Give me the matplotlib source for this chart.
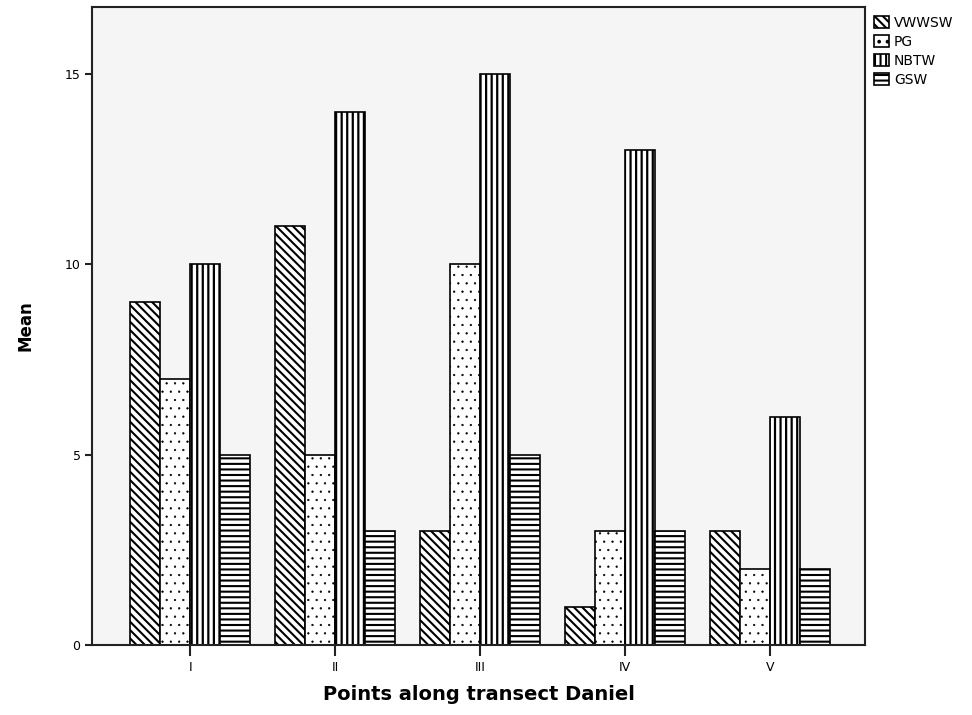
"""Grouped bar chart of mean counts along transect Daniel."""

import matplotlib
matplotlib.use("Agg")
import matplotlib.pyplot as plt
import numpy as np

points = ["I", "II", "III", "IV", "V"]
series = ["VWWSW", "PG", "NBTW", "GSW"]
vwwsw = [9, 11, 3, 1, 3]
pg = [7, 5, 10, 3, 2]
nbtw = [10, 14, 15, 13, 6]
gsw = [5, 3, 5, 3, 2]

hatches = ["\\\\\\\\", "..", "|||", "---"]
hatch_lw = [1.5, 0.4, 1.6, 1.5]

plt.rcParams["font.family"] = ["DejaVu Sans"]
plt.rcParams["hatch.linewidth"] = 1.5
plt.rcParams["hatch.color"] = "black"

fig = plt.figure(figsize=(9.72, 7.15), dpi=100)
ax = fig.add_axes([0.095, 0.098, 0.795, 0.892])
ax.set_facecolor("#f5f5f5")

x = np.arange(len(points))
width = 0.207
for i, (name, vals) in enumerate(zip(series, [vwwsw, pg, nbtw, gsw])):
    bars = ax.bar(x + (i - 1.5) * width, vals, width, color="white",
                  edgecolor="black", linewidth=1.2, hatch=hatches[i],
                  label=name)
    for b in bars:
        if hasattr(b, "set_hatch_linewidth"):
            b.set_hatch_linewidth(hatch_lw[i])

ax.set_xlim(-0.676, 4.655)
ax.set_ylim(0, 16.76)
ax.set_yticks([0, 5, 10, 15])
ax.set_xticks(x)
ax.set_xticklabels(points)
ax.tick_params(axis="both", labelsize=9, width=1.5, color="#222222")
ax.tick_params(axis="y", length=5)
ax.tick_params(axis="x", length=8)
for s in ax.spines.values():
    s.set_linewidth(1.5)
    s.set_color("#222222")

ax.set_ylabel("Mean", fontsize=12, fontweight="bold", labelpad=22)
ax.set_xlabel("Points along transect Daniel", fontsize=14,
              fontweight="bold", labelpad=8)

ax.legend(loc="upper left", bbox_to_anchor=(1.0, 1.0), frameon=False,
          fontsize=10, handlelength=1.08, handleheight=0.94,
          handletextpad=0.36, labelspacing=0.35, borderpad=0.35,
          borderaxespad=0.3)

fig.savefig("out.png", dpi=100)
